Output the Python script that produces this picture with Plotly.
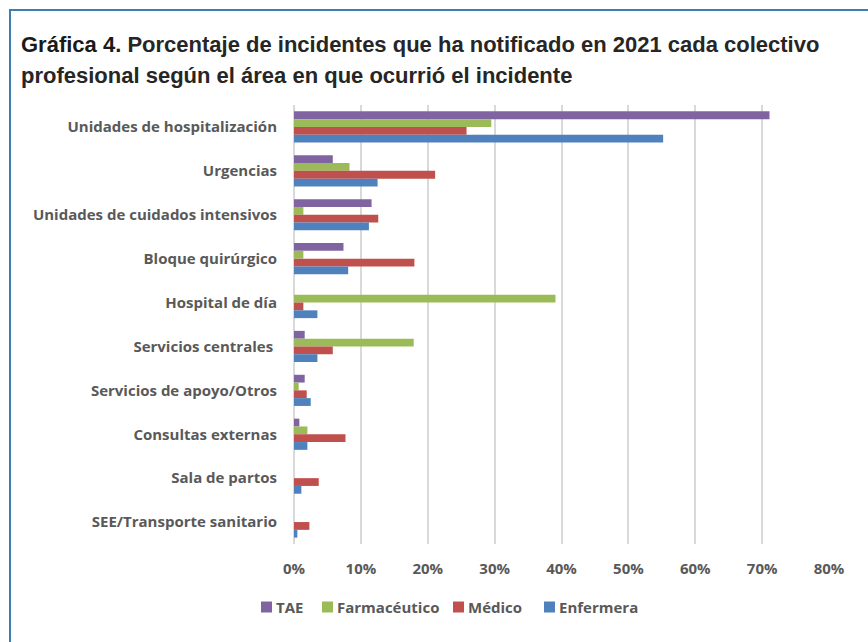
import plotly.graph_objects as go

# Hospital areas (top to bottom)
areas = [
    "Unidades de hospitalización",
    "Urgencias",
    "Unidades de cuidados intensivos",
    "Bloque quirúrgico",
    "Hospital de día",
    "Servicios centrales ",
    "Servicios de apoyo/Otros",
    "Consultas externas",
    "Sala de partos",
    "SEE/Transporte sanitario",
]

# Percentage of incidents reported by each professional group
tae = [71.1, 5.8, 11.6, 7.4, 0.0, 1.6, 1.6, 0.8, 0.0, 0.0]
farmaceutico = [29.5, 8.3, 1.4, 1.4, 39.1, 17.9, 0.7, 2.0, 0.0, 0.0]
medico = [25.8, 21.1, 12.6, 18.0, 1.4, 5.8, 1.9, 7.7, 3.7, 2.3]
enfermera = [55.2, 12.5, 11.2, 8.1, 3.5, 3.5, 2.5, 2.0, 1.1, 0.5]

x_ticks = [0, 10, 20, 30, 40, 50, 60, 70, 80]
x_tick_labels = ["0%", "10%", "20%", "30%", "40%", "50%", "60%", "70%", "80%"]

series_names = ["TAE", "Farmacéutico", "Médico", "Enfermera"]
series_values = [tae, farmaceutico, medico, enfermera]
series_colors = ["#8064a2", "#9bbb59", "#c0504d", "#4f81bd"]

W, H = 868, 642
ML, MR, MT, MB = 294, 39, 105, 98

fig = go.Figure()
for name, vals, color in zip(series_names, series_values, series_colors):
    fig.add_trace(go.Bar(
        name=name, y=areas, x=vals, orientation="h",
        marker=dict(color=color, line=dict(width=0)),
        showlegend=False,
    ))

label_font = dict(family="Open Sans, DejaVu Sans, sans-serif", size=15,
                  color="#595959", weight="bold")

fig.update_layout(
    width=W, height=H,
    margin=dict(l=ML, r=MR, t=MT, b=MB, pad=0),
    paper_bgcolor="white", plot_bgcolor="white",
    barmode="group", bargap=0.29, bargroupgap=0,
    showlegend=False,
    xaxis=dict(range=[0, 80], tickvals=x_ticks, ticktext=x_tick_labels,
               showgrid=True, gridcolor="#d9d9d9", gridwidth=2,
               zeroline=True, zerolinecolor="#d9d9d9", zerolinewidth=2,
               showline=False, tickfont=label_font, ticks="",
               ticklabelstandoff=14),
    yaxis=dict(autorange="reversed", showgrid=False, showline=False,
               ticks="", tickfont=label_font, ticklabelstandoff=16),
    font=dict(family="Open Sans, sans-serif"),
)

pw = W - ML - MR
ph = H - MT - MB


def px_x(px):
    return (px - ML) / pw


def px_y(py):
    return 1 - (py - MT) / ph


# Title, two lines
title_font = dict(family="Liberation Sans, Arial, sans-serif", size=22, color="#1a1a1a")
fig.add_annotation(
    text="<b>Gráfica 4.</b> <b style='color:#262626'>Porcentaje de incidentes que ha notificado en 2021 cada colectivo</b>",
    xref="paper", yref="paper", x=px_x(19), y=px_y(44),
    xanchor="left", yanchor="middle", showarrow=False, font=title_font,
)
fig.add_annotation(
    text="<b style='color:#262626'>profesional según el área en que ocurrió el incidente</b>",
    xref="paper", yref="paper", x=px_x(19), y=px_y(76),
    xanchor="left", yanchor="middle", showarrow=False, font=title_font,
)

# Legend row: coloured square followed by the series name
legend_square_left = [261, 322, 453, 544]
legend_y = 607
for name, color, sx in zip(series_names, series_colors, legend_square_left):
    fig.add_shape(type="rect", xref="paper", yref="paper",
                  x0=px_x(sx), x1=px_x(sx + 11),
                  y0=px_y(legend_y - 5.5), y1=px_y(legend_y + 5.5),
                  fillcolor=color, line=dict(width=0))
    fig.add_annotation(text=name, xref="paper", yref="paper",
                       x=px_x(sx + 13), y=px_y(legend_y),
                       xanchor="left", yanchor="middle", showarrow=False,
                       font=label_font)

# Frame lines along the top and left edge
frame_color = "#3b80b3"
fig.add_shape(type="line", xref="paper", yref="paper",
              x0=px_x(9), x1=px_x(W), y0=px_y(10), y1=px_y(10),
              line=dict(color=frame_color, width=2))
fig.add_shape(type="line", xref="paper", yref="paper",
              x0=px_x(10), x1=px_x(10), y0=px_y(10), y1=px_y(H),
              line=dict(color=frame_color, width=2))

fig.write_html("out.html")
